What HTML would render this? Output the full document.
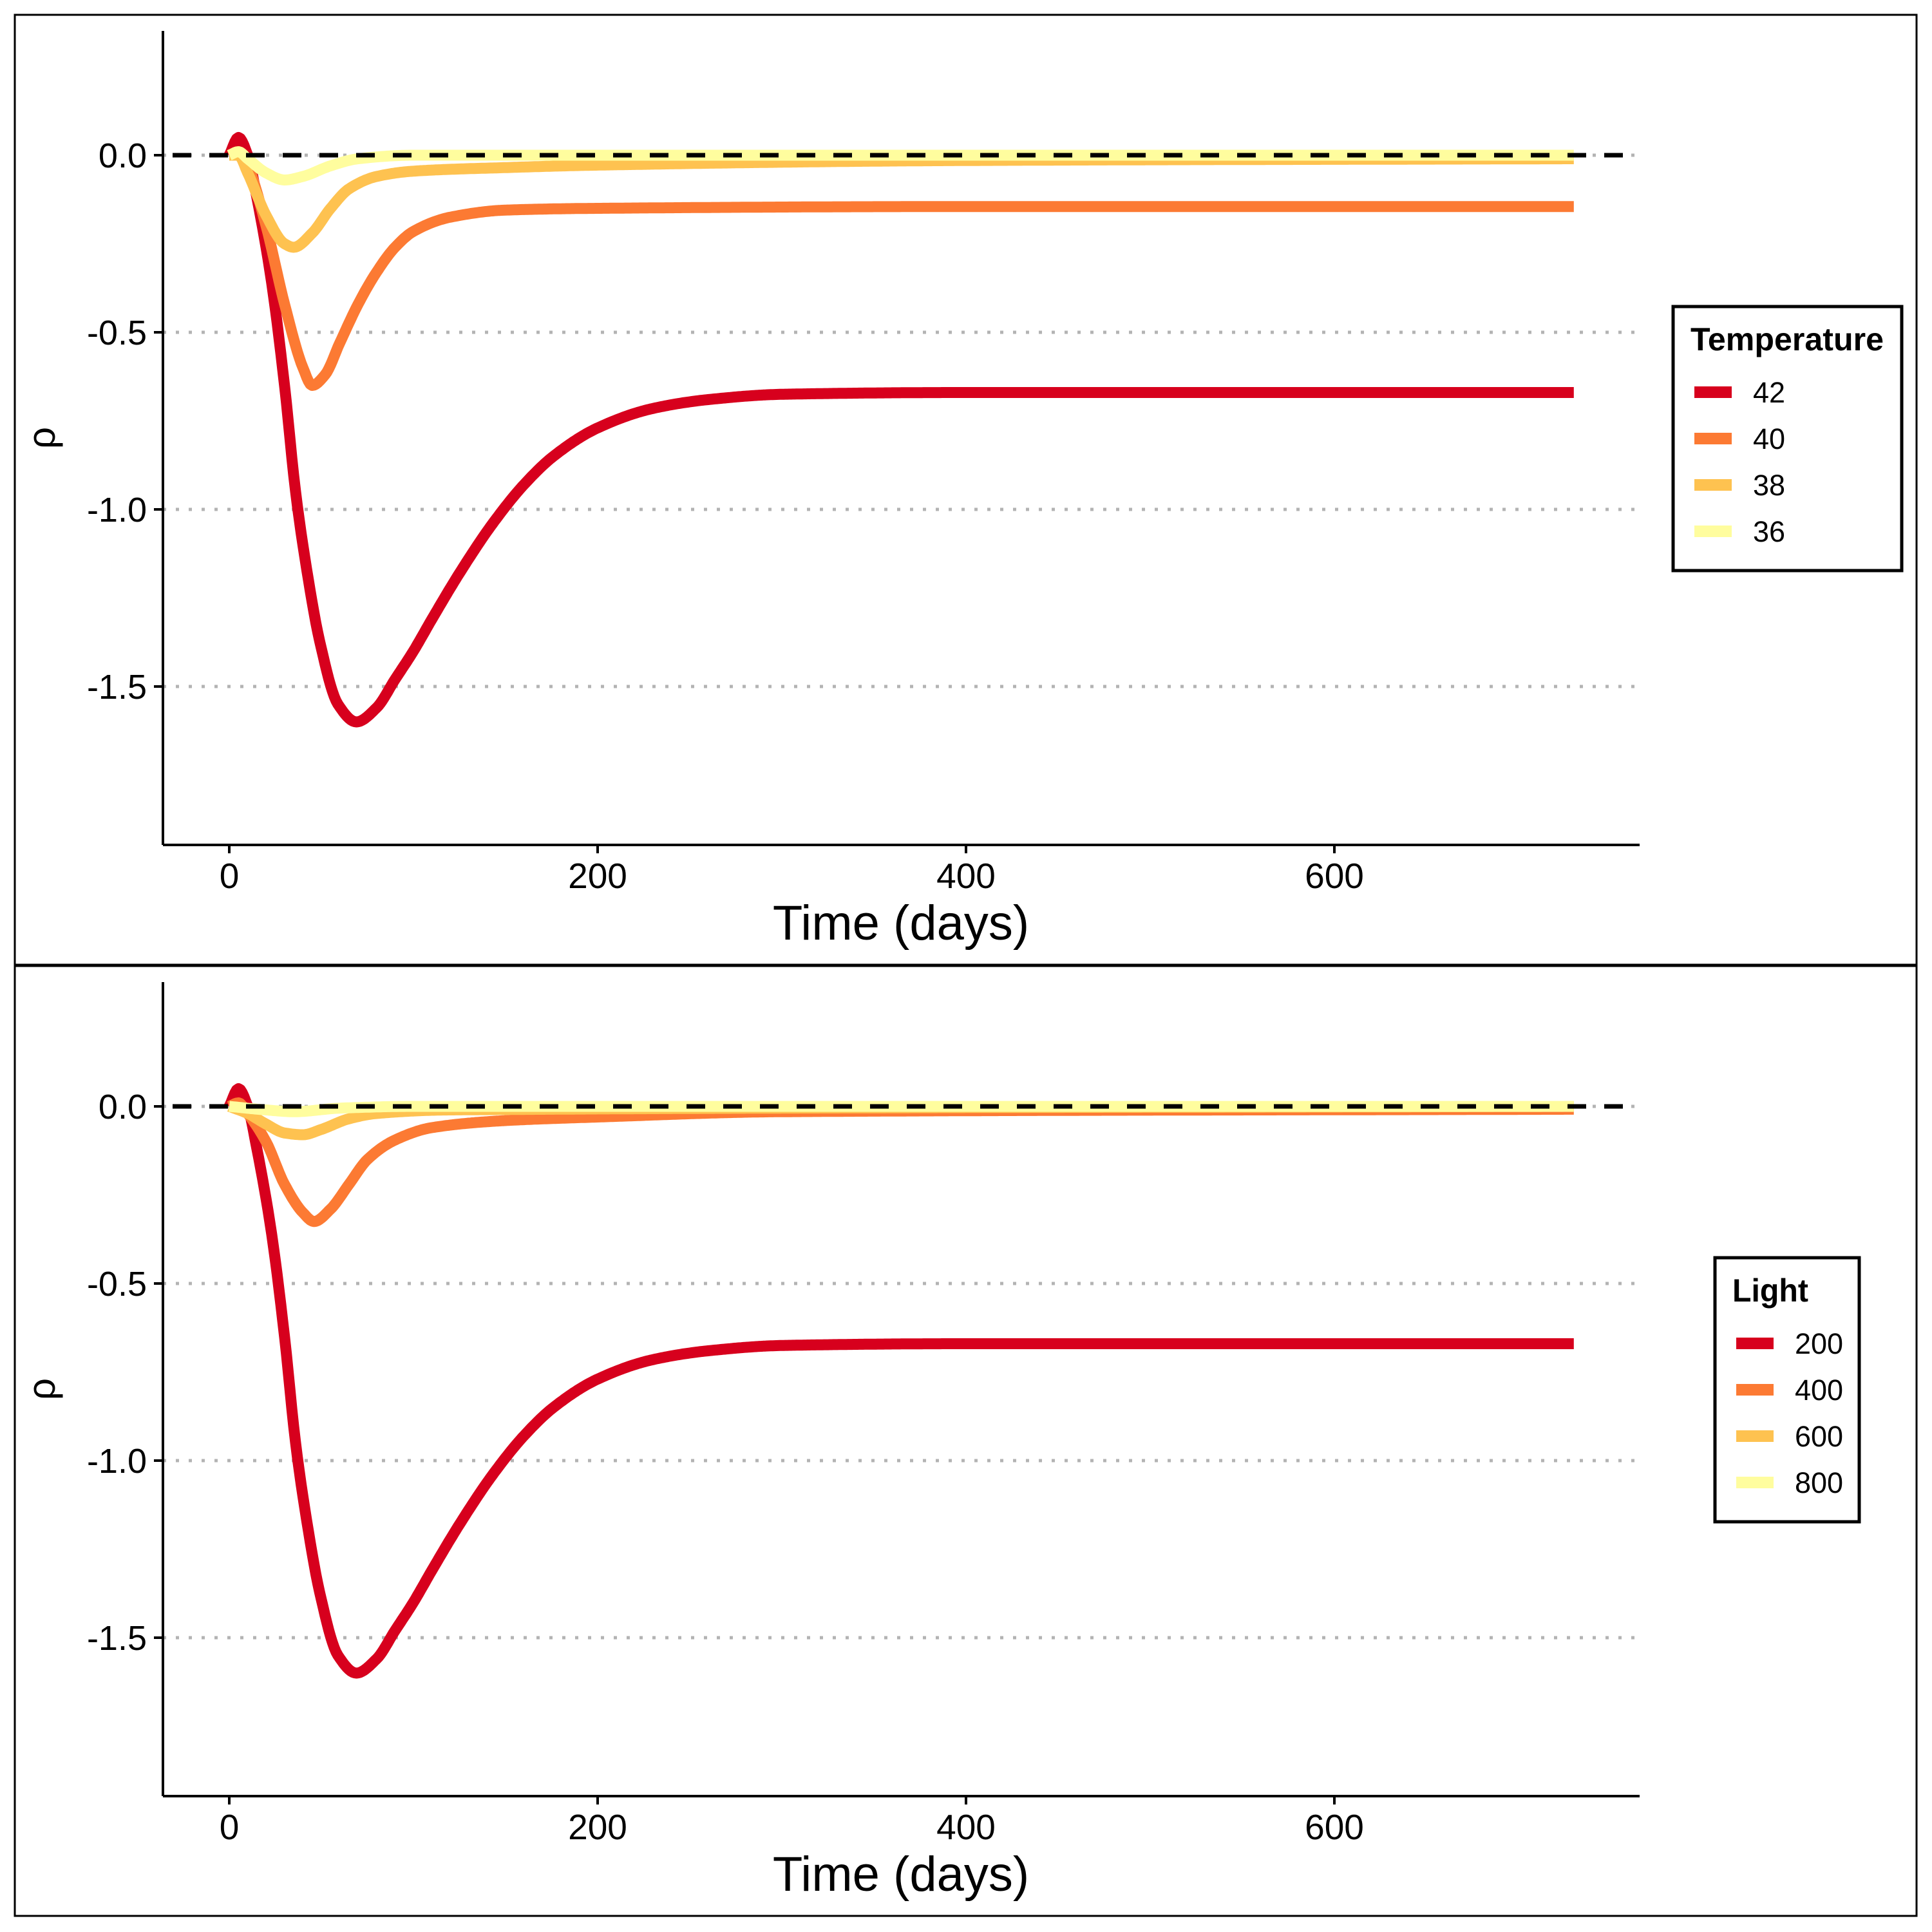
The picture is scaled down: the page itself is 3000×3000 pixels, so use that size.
<!DOCTYPE html>
<html><head><meta charset="utf-8"><style>
html,body{margin:0;padding:0;background:#fff;}
svg{display:block;font-family:"Liberation Sans",Arial,sans-serif;}
</style></head><body>
<svg id="chart" width="3000" height="3000" viewBox="0 0 3000 3000">
<rect x="0" y="0" width="3000" height="3000" fill="#fff"/>
</svg>
<script>
// ----- data -----
const yTicks = [0.0, -0.5, -1.0, -1.5];
const yTickLabels = ["0.0", "-0.5", "-1.0", "-1.5"];
const xTicks = [0, 200, 400, 600];
const xTickLabels = ["0", "200", "400", "600"];

const tempLabels = ["42", "40", "38", "36"];
const lightLabels = ["200", "400", "600", "800"];
const seriesColors = ["#d7001d", "#fc7a33", "#fec250", "#fffd9e"];

const t42 = [0,5,10,15,23,30,36,43,49,59,69,80,90,100,110,125,143,160,176,200,230,260,300,400,730];
const v42 = [0,0.05,0,-0.12,-0.36,-0.65,-0.95,-1.2,-1.37,-1.55,-1.6,-1.56,-1.48,-1.40,-1.31,-1.18,-1.04,-0.93,-0.85,-0.77,-0.715,-0.69,-0.675,-0.67,-0.67];
const t40 = [0,5,10,20,30,40,45,52,60,70,80,90,100,120,150,200,400,730];
const v40 = [0,0.01,-0.03,-0.2,-0.42,-0.6,-0.65,-0.62,-0.53,-0.42,-0.33,-0.26,-0.215,-0.175,-0.155,-0.15,-0.145,-0.145];
const t38 = [0,5,10,20,30,35,45,55,65,80,100,150,200,400,730];
const v38 = [0,0,-0.05,-0.17,-0.25,-0.26,-0.22,-0.15,-0.095,-0.06,-0.045,-0.035,-0.028,-0.015,-0.01];
const t36 = [0,5,10,20,30,40,55,70,100,730];
const v36 = [0,0.01,-0.01,-0.05,-0.07,-0.06,-0.03,-0.01,0,0];

const t200 = t42.slice();
const v200 = v42.slice();
const t400 = [0,5,10,20,30,40,46,55,65,75,90,110,150,200,300,730];
const v400 = [0,0.01,-0.02,-0.1,-0.22,-0.3,-0.325,-0.29,-0.22,-0.15,-0.095,-0.06,-0.04,-0.03,-0.015,-0.008];
const t600 = [0,10,20,30,40,50,65,80,120,730];
const v600 = [0,-0.02,-0.05,-0.075,-0.08,-0.065,-0.035,-0.02,-0.01,0];
const t800 = [0,20,35,60,100,730];
const v800 = [0,-0.01,-0.015,-0.005,0,0];

const NS = "http://www.w3.org/2000/svg";
const svg = document.getElementById("chart");
function mk(tag, attrs, parent){
  const e = document.createElementNS(NS, tag);
  for (const k in attrs) e.setAttribute(k, attrs[k]);
  (parent||svg).appendChild(e);
  return e;
}

function monotone(ts, vs){
  const n = ts.length, d = [], m = [];
  for (let i=0;i<n-1;i++) d.push((vs[i+1]-vs[i])/(ts[i+1]-ts[i]));
  m[0] = d[0]; m[n-1] = d[n-2];
  for (let i=1;i<n-1;i++){
    if (d[i-1]*d[i] <= 0) m[i] = 0;
    else {
      const h0 = ts[i]-ts[i-1], h1 = ts[i+1]-ts[i];
      const w1 = 2*h1+h0, w2 = h1+2*h0;
      m[i] = (w1+w2)/(w1/d[i-1]+w2/d[i]);
    }
  }
  return function(t){
    let i = 0;
    while (i < n-2 && t > ts[i+1]) i++;
    const h = ts[i+1]-ts[i], s = (t-ts[i])/h;
    const h00 = 2*s*s*s-3*s*s+1, h10 = s*s*s-2*s*s+s, h01 = -2*s*s*s+3*s*s, h11 = s*s*s-s*s;
    return h00*vs[i] + h10*h*m[i] + h01*vs[i+1] + h11*h*m[i+1];
  };
}

function panel(off, seriesT, seriesV, labels, legendTitle, lg, name){
  const g = mk("g", {});
  
  
  const x = t => 356 + t * 2.86;
  const y = v => 241 + off - v * 550;
  const axL = 253, axR = 2546, axT = 48 + off, axB = 1312 + off;

  const border = mk("rect", {x:23, y:23+off, width:2953, height:1475, fill:"none", stroke:"#000", "stroke-width":3}, g);
  
  

  yTicks.forEach(v => {
    const gl = mk("line", {x1:axL, x2:axR, y1:y(v), y2:y(v), stroke:"#b3b3b3", "stroke-width":5, "stroke-dasharray":"5 15"}, g);
    
    
  });

  for (let s=0;s<seriesT.length;s++){
    const ts = seriesT[s], f = monotone(ts, seriesV[s]);
    const tEnd = ts[ts.length-1];
    let d = "";
    for (let t=ts[0]; t<=tEnd; t+=1){
      d += (d ? " L" : "M") + x(t).toFixed(1) + "," + y(f(t)).toFixed(1);
    }
    const p = mk("path", {d:d, fill:"none", stroke:seriesColors[s], "stroke-width":17, "stroke-linejoin":"round", "stroke-linecap":"butt"}, g);
    
    
  }

  const zl = mk("line", {x1:axL+15, x2:axR, y1:y(0), y2:y(0), stroke:"#000", "stroke-width":7, "stroke-dasharray":"29 28"}, g);
  
  

  const ya = mk("line", {x1:axL, x2:axL, y1:axT, y2:axB, stroke:"#000", "stroke-width":4}, g);
  
  
  const xa = mk("line", {x1:axL, x2:axR, y1:axB, y2:axB, stroke:"#000", "stroke-width":4}, g);
  
  

  yTicks.forEach((v,i) => {
    const tk = mk("line", {x1:axL-14, x2:axL, y1:y(v), y2:y(v), stroke:"#000", "stroke-width":4}, g);
    
    
    const tl = mk("text", {x:axL-25, y:y(v)+19, "text-anchor":"end", "font-size":54, fill:"#000"}, g);
    tl.textContent = yTickLabels[i];
    
    
  });
  xTicks.forEach((v,i) => {
    const tk = mk("line", {x1:x(v), x2:x(v), y1:axB, y2:axB+13, stroke:"#000", "stroke-width":4}, g);
    
    
    const tl = mk("text", {x:x(v), y:axB+67, "text-anchor":"middle", "font-size":55, fill:"#000"}, g);
    tl.textContent = xTickLabels[i];
    
    
  });

  const xt = mk("text", {x:1399, y:1459+off, "text-anchor":"middle", "font-size":76, fill:"#000"}, g);
  xt.textContent = "Time (days)";
  
  
  const yt = mk("text", {x:0, y:0, "text-anchor":"middle", "font-size":60, fill:"#000", transform:"translate(85," + (680+off) + ") rotate(-90)"}, g);
  yt.textContent = "ρ";
  
  

  const lgG = mk("g", {}, g);
  
  
  mk("rect", {x:lg.x, y:lg.y, width:lg.w, height:lg.h, fill:"#fff", stroke:"#000", "stroke-width":5}, lgG);
  const ttl = mk("text", {x:lg.x+27, y:lg.y+68, "font-size":50, "font-weight":"bold", fill:"#000", textLength:lg.tl, lengthAdjust:"spacingAndGlyphs"}, lgG);
  ttl.textContent = legendTitle;
  
  
  labels.forEach((lab,i) => {
    const cy = lg.y + 133 + i*72;
    const e = mk("g", {}, lgG);
    
    
    mk("rect", {x:lg.x+33, y:cy-9, width:58, height:18, fill:seriesColors[i]}, e);
    const lt = mk("text", {x:lg.x+124, y:cy+16, "font-size":45, fill:"#000"}, e);
    lt.textContent = lab;
  });
}

panel(0, [t42,t40,t38,t36], [v42,v40,v38,v36], tempLabels, "Temperature", {x:2598,y:476,w:355,h:410,tl:300}, "temperature-panel");
panel(1477, [t200,t400,t600,t800], [v200,v400,v600,v800], lightLabels, "Light", {x:2663,y:1953,w:224,h:410,tl:118}, "light-panel");
</script>
</body></html>
